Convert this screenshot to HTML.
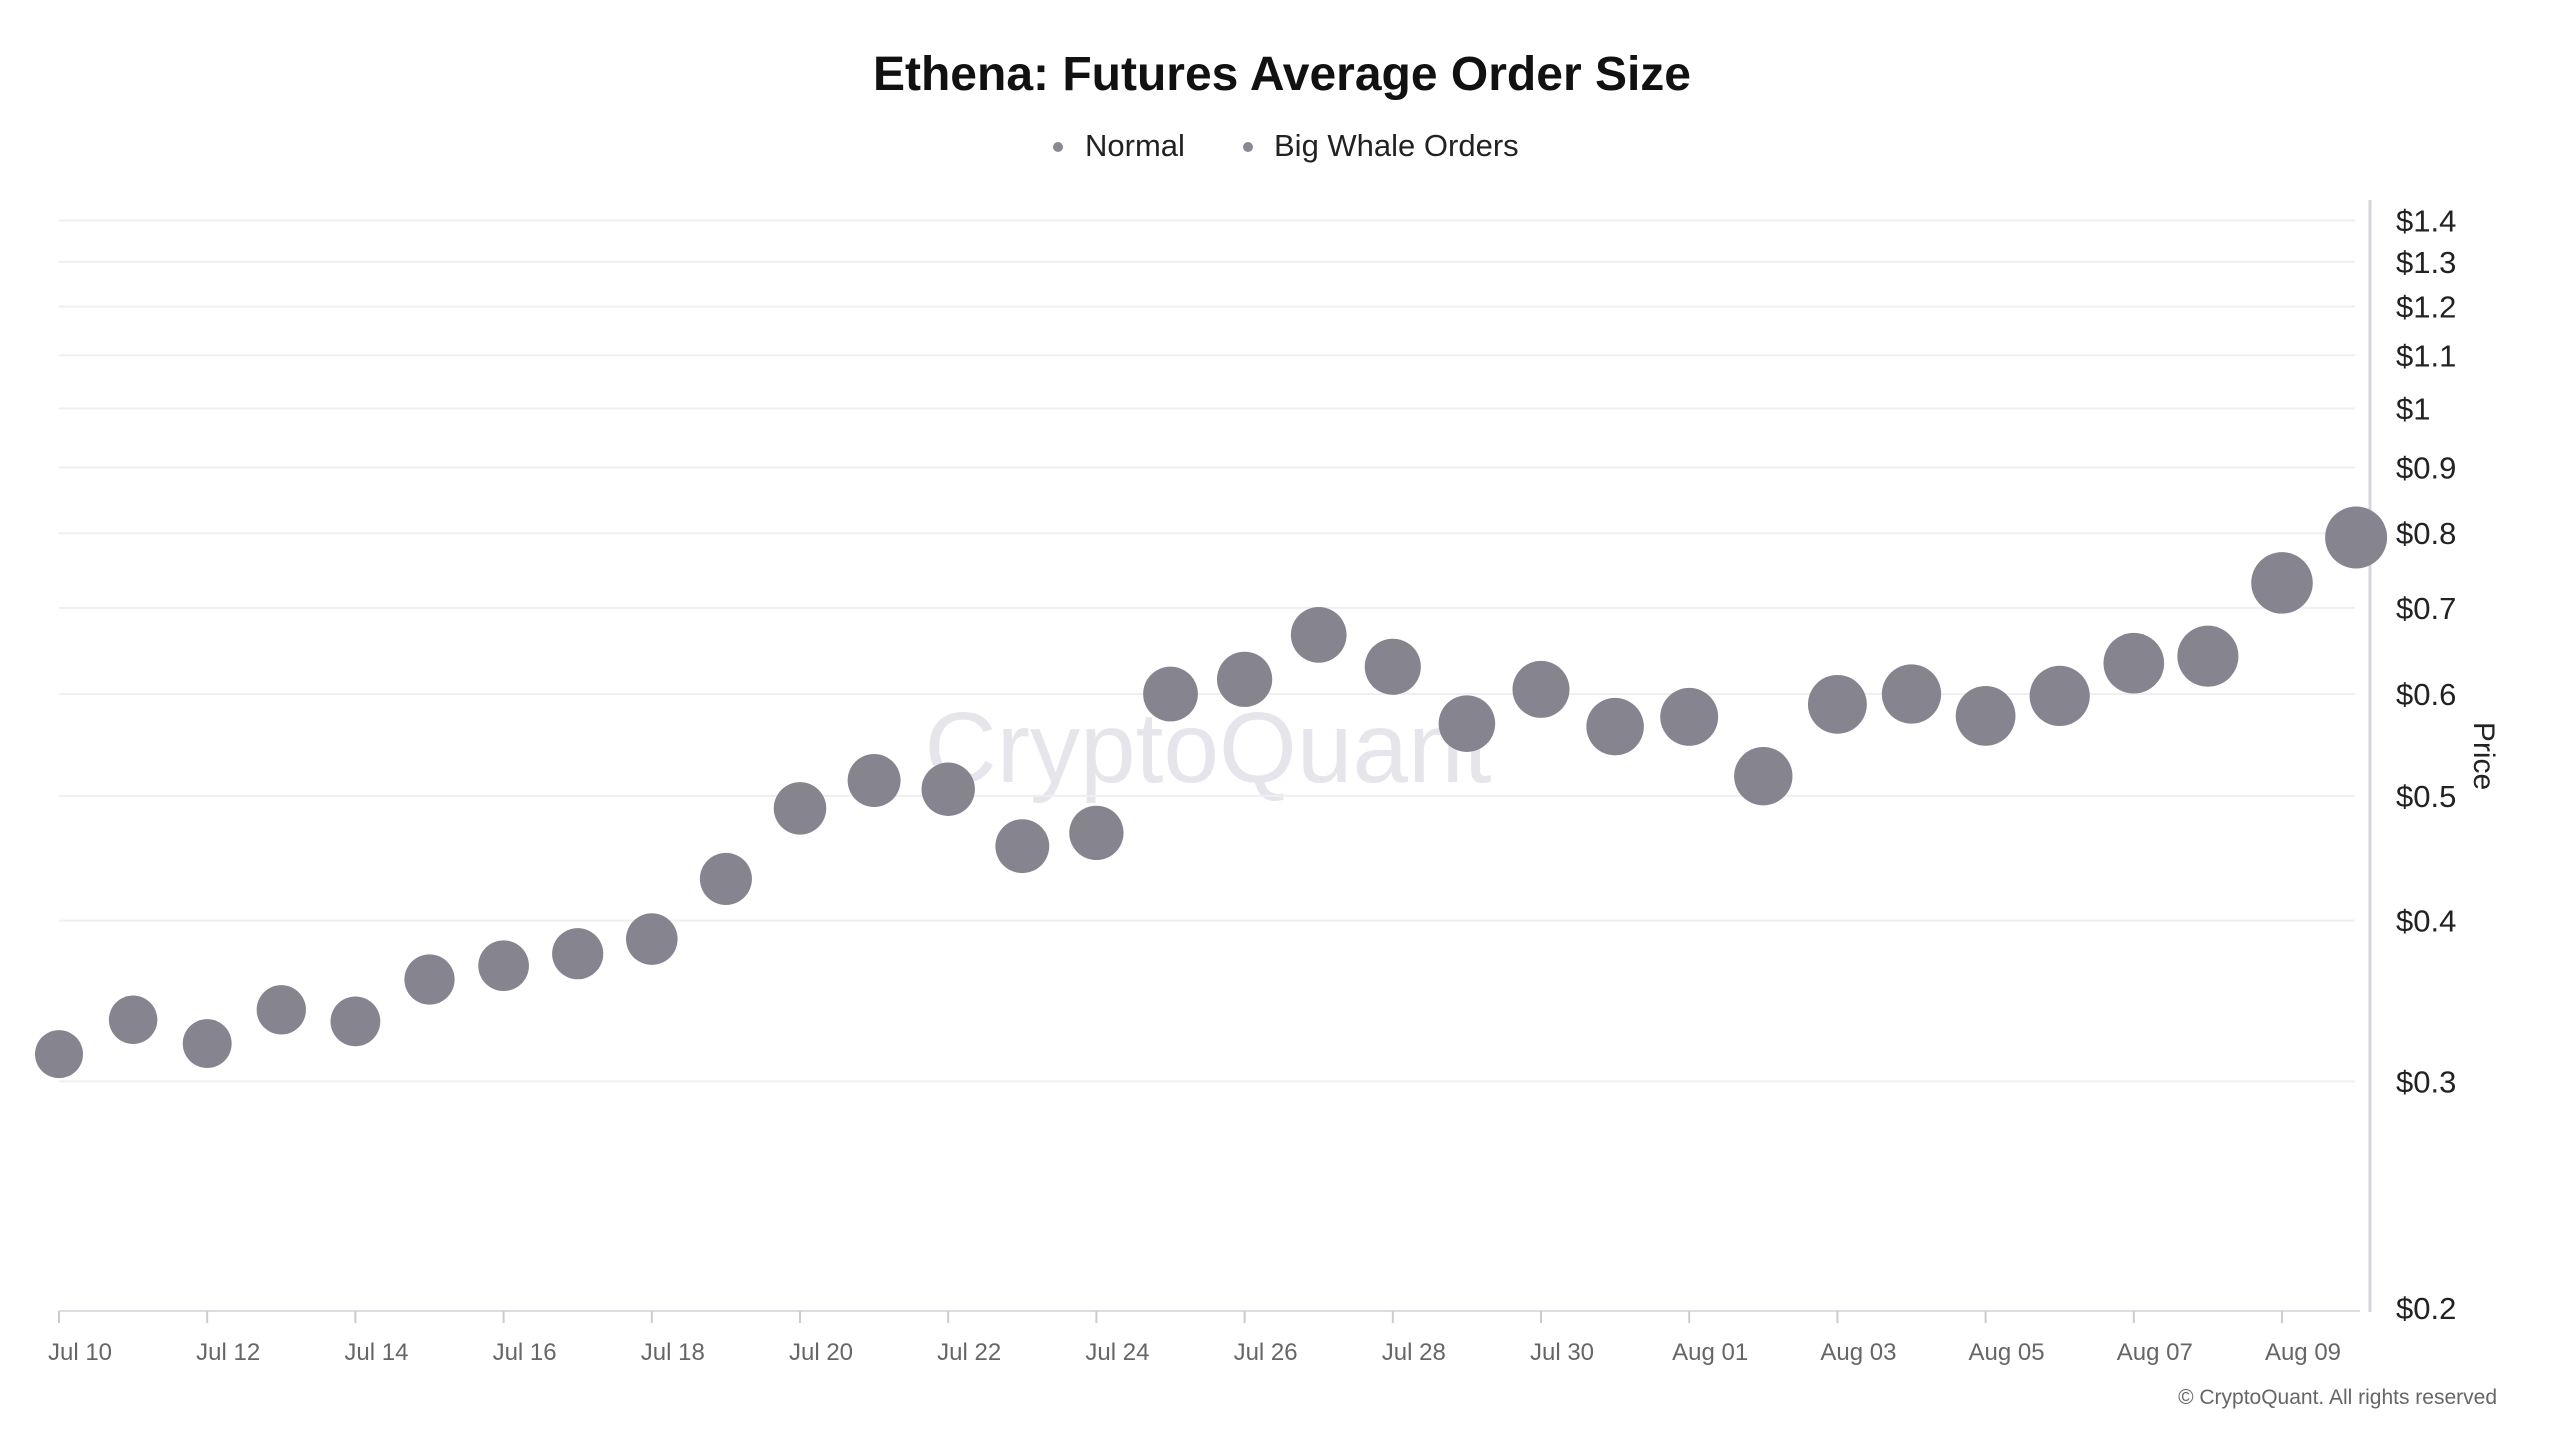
<!DOCTYPE html>
<html><head><meta charset="utf-8"><style>
html,body{margin:0;padding:0;background:#fff;width:2560px;height:1440px;overflow:hidden;font-family:"Liberation Sans",sans-serif}
</style></head><body>
<svg id="chart" width="2560" height="1440" xmlns="http://www.w3.org/2000/svg">
<text x="1282" y="90" text-anchor="middle" font-size="48" font-weight="bold" fill="#111">Ethena: Futures Average Order Size</text>
<g>
<g><circle cx="1058" cy="147" r="5" fill="#8a8893"/><text x="1085" y="156" font-size="31" fill="#222">Normal</text></g>
<g><circle cx="1248" cy="147" r="5" fill="#8a8893"/><text x="1274" y="156" font-size="31" fill="#222">Big Whale Orders</text></g>
</g>
<text x="1208" y="782" text-anchor="middle" font-size="100" fill="#e6e5ec">CryptoQuant</text>
<g id="grid"></g>
<g id="yaxis"></g>
<g id="xaxis"></g>
<g id="points"></g>
<text transform="translate(2474,756) rotate(90)" text-anchor="middle" font-size="30" fill="#222">Price</text>
<text x="2497" y="1404" text-anchor="end" font-size="21" fill="#666">© CryptoQuant. All rights reserved</text>
</svg>
<script>
const dates = ["Jul 10","Jul 11","Jul 12","Jul 13","Jul 14","Jul 15","Jul 16","Jul 17","Jul 18","Jul 19","Jul 20","Jul 21","Jul 22","Jul 23","Jul 24","Jul 25","Jul 26","Jul 27","Jul 28","Jul 29","Jul 30","Jul 31","Aug 01","Aug 02","Aug 03","Aug 04","Aug 05","Aug 06","Aug 07","Aug 08","Aug 09","Aug 10"];
const prices = [0.315,0.335,0.321,0.341,0.334,0.360,0.369,0.377,0.387,0.431,0.489,0.514,0.506,0.457,0.468,0.600,0.616,0.667,0.630,0.569,0.605,0.566,0.576,0.518,0.589,0.600,0.577,0.598,0.634,0.642,0.732,0.794];
const yTicks = [0.2,0.3,0.4,0.5,0.6,0.7,0.8,0.9,1,1.1,1.2,1.3,1.4];
const yTickLabels = ["$0.2","$0.3","$0.4","$0.5","$0.6","$0.7","$0.8","$0.9","$1","$1.1","$1.2","$1.3","$1.4"];
const xTickIdx = [0,2,4,6,8,10,12,14,16,18,20,22,24,26,28,30];
const xTickLabels = ["Jul 10","Jul 12","Jul 14","Jul 16","Jul 18","Jul 20","Jul 22","Jul 24","Jul 26","Jul 28","Jul 30","Aug 01","Aug 03","Aug 05","Aug 07","Aug 09"];

const NS="http://www.w3.org/2000/svg";
const X0=59, XSTEP=74.1, YBASE=1308, YTOP=220.5, VMIN=0.2, VMAX=1.4;
function xs(i){return X0+i*XSTEP;}
function ys(v){return YBASE-(Math.log(v/VMIN)/Math.log(VMAX/VMIN))*(YBASE-YTOP);}
function mk(tag,attrs,parent){const e=document.createElementNS(NS,tag);for(const k in attrs)e.setAttribute(k,attrs[k]);parent.appendChild(e);return e;}

const grid=document.getElementById('grid'),yax=document.getElementById('yaxis'),xax=document.getElementById('xaxis'),pts=document.getElementById('points');
yTicks.forEach((v,i)=>{
  const y=ys(v);
  if(i>0){const g=mk('line',{x1:59,x2:2355,y1:y,y2:y,stroke:'#efeff2','stroke-width':2},grid);
  
  }
  const t=mk('text',{x:2396,y:y+11,'font-size':31,fill:'#222'},yax);
  t.textContent=yTickLabels[i];
  
  
});
const axl=mk('line',{x1:2370,x2:2370,y1:200,y2:1312,stroke:'#d5d5dc','stroke-width':3},yax);


const xl=mk('line',{x1:59,x2:2360,y1:1311,y2:1311,stroke:'#dcdce3','stroke-width':2},xax);


xTickIdx.forEach((idx,i)=>{
  const x=xs(idx);
  const tk=mk('line',{x1:x,x2:x,y1:1311,y2:1323,stroke:'#ccc','stroke-width':2},xax);
  
  
  const t=mk('text',{x:x+21,y:1360,'text-anchor':'middle','font-size':24,fill:'#666'},xax);
  t.textContent=xTickLabels[i];
  
  
});
prices.forEach((v,i)=>{
  const c=mk('circle',{cx:xs(i),cy:ys(v),r:24+7*i/(prices.length-1),fill:'#86848f'},pts);
  
  
});
</script>
</body></html>
